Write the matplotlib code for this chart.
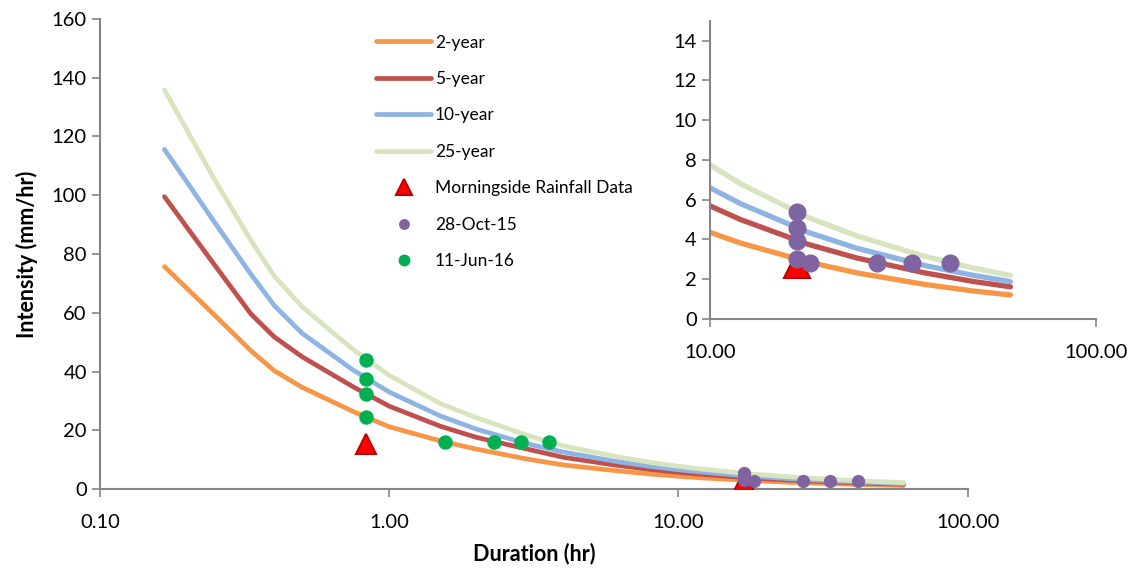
import matplotlib
matplotlib.use("Agg")
import matplotlib.pyplot as plt
from matplotlib.ticker import FixedLocator, FuncFormatter, NullLocator

plt.rcParams['font.family'] = ['Lato', 'DejaVu Sans']

# IDF curves (duration in hours, intensity in mm/hr)
durations = [0.167, 0.25, 0.333, 0.4, 0.5, 0.75, 1, 1.5, 2, 3, 4, 6, 8, 10, 12, 18, 24, 36, 48, 60]
idf_2yr  = [75.7, 59.0, 47.0, 40.3, 34.6, 26.4, 21.2, 16.4, 13.6, 10.2, 8.2, 6.3, 5.1, 4.36, 3.82, 2.86, 2.32, 1.74, 1.41, 1.21]
idf_5yr  = [99.5, 76.0, 59.5, 51.8, 45.0, 34.8, 28.2, 21.4, 17.6, 13.6, 10.8, 8.2, 6.65, 5.69, 5.0, 3.75, 3.07, 2.32, 1.89, 1.62]
idf_10yr = [115.6, 90.5, 73.0, 62.5, 53.0, 40.5, 33.0, 24.9, 20.4, 15.4, 12.6, 9.5, 7.7, 6.6, 5.8, 4.35, 3.56, 2.69, 2.2, 1.88]
idf_25yr = [135.8, 105.0, 84.5, 72.5, 62.0, 47.5, 38.7, 29.1, 24.3, 18.3, 14.7, 11.2, 9.06, 7.75, 6.8, 5.1, 4.18, 3.15, 2.57, 2.19]

# Morningside rainfall data
morn_dur = [0.834, 16.8]
morn_int = [15.5, 2.7]

# 28-Oct-15 event
oct_dur = [16.8, 16.8, 16.8, 16.8, 18.2, 27.0, 33.4, 41.9]
oct_int = [5.36, 4.56, 3.94, 3.0, 2.83, 2.83, 2.83, 2.83]

# 11-Jun-16 event
jun_dur = [0.834, 0.834, 0.834, 0.834, 1.56, 2.31, 2.86, 3.56]
jun_int = [43.9, 37.4, 32.2, 24.6, 15.9, 15.9, 15.9, 15.9]

series_names = ['2-year', '5-year', '10-year', '25-year']
series_vals = [idf_2yr, idf_5yr, idf_10yr, idf_25yr]
series_colors = ['#F79646', '#C0504D', '#8DB4E2', '#D7E4BD']

main_xticks = [0.1, 1, 10, 100]
main_yticks = [0, 20, 40, 60, 80, 100, 120, 140, 160]
inset_xticks = [10, 100]
inset_yticks = [0, 2, 4, 6, 8, 10, 12, 14]

fig = plt.figure(figsize=(11.37, 5.72), dpi=100)
ax = fig.add_axes([0.088, 0.145, 0.763, 0.822])
axi = fig.add_axes([0.6245, 0.4423, 0.3395, 0.5213])

spine_col = '#868686'
fmt = FuncFormatter(lambda v, p: f"{v:.2f}")

def style(a):
    for s in ['top', 'right']:
        a.spines[s].set_visible(False)
    for s in ['left', 'bottom']:
        a.spines[s].set_color(spine_col)
        a.spines[s].set_linewidth(1.5)
    a.tick_params(axis='both', colors=spine_col, labelcolor='black', labelsize=14.5,
                  length=6, width=1.2, direction='out')
    a.tick_params(axis='x', pad=12)
    a.xaxis.set_minor_locator(NullLocator())
    a.xaxis.set_major_formatter(fmt)

for a, xlim, ylim, xt, yt, lw, ms_dot, ms_tri in [
        (ax, (0.1, 100), (0, 160), main_xticks, main_yticks, 3.4, 8.5, 15),
        (axi, (10, 100), (0, 15), inset_xticks, inset_yticks, 3.8, 12, 19)]:
    for name, vals, col in zip(series_names, series_vals, series_colors):
        a.plot(durations, vals, color=col, lw=lw, label=name, solid_capstyle='round',
               solid_joinstyle='round', zorder=2)
    a.plot(morn_dur, morn_int, ls='none', marker='^', ms=ms_tri, mfc='#FF0000',
           mec='#C00000', mew=1.5, label='Morningside Rainfall Data', zorder=3)
    a.plot(oct_dur, oct_int, ls='none', marker='o', ms=ms_dot, mfc='#8064A2',
           mec='#8064A2', label='28-Oct-15', zorder=4)
    a.plot(jun_dur, jun_int, ls='none', marker='o', ms=9.4, mfc='#00B050',
           mec='#00B050', label='11-Jun-16', zorder=5)
    a.set_xscale('log')
    a.set_xlim(*xlim)
    a.set_ylim(*ylim)
    style(a)
    a.xaxis.set_major_locator(FixedLocator(xt))
    a.xaxis.set_minor_locator(NullLocator())
    a.set_yticks(yt)

axi.set_facecolor('none')

ax.set_ylabel('Intensity (mm/hr)', fontsize=15.5, fontweight='bold', labelpad=10)
ax.set_xlabel('Duration (hr)', fontsize=15.5, fontweight='bold', labelpad=8)

h, l = ax.get_legend_handles_labels()
leg = ax.legend(h, l, loc='upper left', bbox_to_anchor=(0.3, 1.0), frameon=False,
                fontsize=12.5, handlelength=3.2, labelspacing=1.18, handletextpad=0.2,
                markerscale=0.8)

fig.savefig('out.png', dpi=100)
